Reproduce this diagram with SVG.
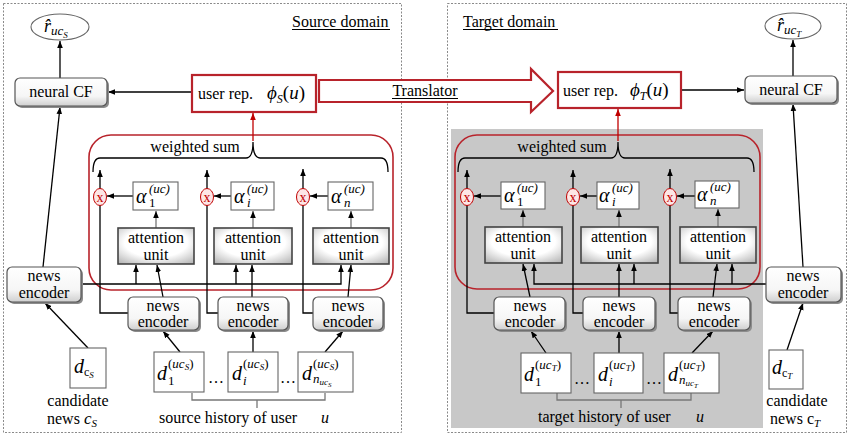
<svg xmlns="http://www.w3.org/2000/svg" width="850" height="435" viewBox="0 0 850 435" font-family="Liberation Serif, serif" font-size="16">
<defs>
<style>
.t{fill:#000}
.i{font-style:italic}
.c{text-anchor:middle}
.ln{stroke:#000;stroke-width:1.3;fill:none}
.gl{stroke:#777;stroke-width:1.3;fill:none}
.rl{stroke:#c00000;stroke-width:1.3;fill:none}
.enc{fill:url(#ge);stroke:#555;stroke-width:1.2}
.sh{fill:#8c8c8c}
.att{fill:url(#ga);stroke:#444;stroke-width:1.6}
.bx{fill:#fff;stroke:#666;stroke-width:1.1}
.mul{fill:#fde6e6;stroke:#c00000;stroke-width:1}
.mx{fill:#c00000;text-anchor:middle}
.red{fill:#fff;stroke:#b8232b;stroke-width:2.2}
.redr{fill:none;stroke:#b8232b;stroke-width:1.6}
.pan{fill:none;stroke:#8a8a8a;stroke-width:1;stroke-dasharray:2,1.5}
</style>
<linearGradient id="ge" x1="0" y1="0" x2="0" y2="1">
<stop offset="0" stop-color="#ffffff"/><stop offset="0.65" stop-color="#f6f6f6"/><stop offset="1" stop-color="#cfcfcf"/>
</linearGradient>
<radialGradient id="ga" cx="0.5" cy="0.4" r="0.75">
<stop offset="0.55" stop-color="#ffffff"/><stop offset="1" stop-color="#b5b5b5"/>
</radialGradient>
<marker id="a" viewBox="0 0 8 8" refX="8" refY="4" markerWidth="7" markerHeight="7" markerUnits="userSpaceOnUse" orient="auto"><path d="M0,0.8 L8,4 L0,7.2z" fill="#000"/></marker>
<marker id="ar" viewBox="0 0 8 8" refX="8" refY="4" markerWidth="7" markerHeight="7" markerUnits="userSpaceOnUse" orient="auto"><path d="M0,0.8 L8,4 L0,7.2z" fill="#c00000"/></marker>
</defs>
<rect width="850" height="435" fill="#fff"/>

<g id="source-panel">
<rect class="pan" x="3.5" y="3.5" width="398" height="429"/>
<text class="t" x="292" y="27">Source domain</text>
<line x1="292" y1="29.5" x2="390" y2="29.5" stroke="#000" stroke-width="1"/>
</g>
<g id="target-panel">
<rect class="pan" x="447.5" y="3.5" width="399" height="429"/>
<rect x="451" y="129" width="312" height="299" fill="#c8c8c8"/>
<text class="t" x="463" y="27">Target domain</text>
<line x1="463" y1="29.5" x2="558" y2="29.5" stroke="#000" stroke-width="1"/>
</g>

<g id="attn-frame-S">
<rect class="redr" x="89" y="135" width="304" height="155" rx="22"/>
<text class="t c" x="195" y="152">weighted sum</text>
</g>
<g id="attn-frame-T">
<rect class="redr" x="455" y="135" width="305" height="154" rx="22"/>
<text class="t c" x="562" y="152">weighted sum</text>
</g>

<g id="connectors">
<path class="ln" d="M93,172 Q93,158 100,158 H246 Q253,158 253,142 Q253,158 260,158 H381 Q388,158 388,172"/>
<path class="ln" d="M458,172 Q458,158 465,158 H611 Q618,158 618,142 Q618,158 625,158 H747 Q754,158 754,172"/>
<line class="rl" x1="253" y1="141" x2="253" y2="113" marker-end="url(#ar)"/>
<line class="rl" x1="618" y1="141" x2="618" y2="109" marker-end="url(#ar)"/>
<line class="ln" x1="60" y1="78" x2="60" y2="41" marker-end="url(#a)"/>
<line class="ln" x1="192" y1="92" x2="108" y2="92" marker-end="url(#a)"/>
<line class="ln" x1="681" y1="90" x2="744" y2="90" marker-end="url(#a)"/>
<line class="ln" x1="793" y1="76" x2="793" y2="40" marker-end="url(#a)"/>
<line class="ln" x1="43" y1="267" x2="60" y2="107" marker-end="url(#a)"/>
<line class="ln" x1="803" y1="267" x2="793" y2="104" marker-end="url(#a)"/>
<line class="ln" x1="88" y1="348" x2="45" y2="303" marker-end="url(#a)"/>
<line class="ln" x1="787" y1="350" x2="803" y2="303" marker-end="url(#a)"/>

<path class="ln" d="M128,313 H100 V170" marker-end="url(#a)"/>
<path class="ln" d="M218,313 H207 V170" marker-end="url(#a)"/>
<path class="ln" d="M313,313 H303 V169" marker-end="url(#a)"/>
<line class="ln" x1="133" y1="196" x2="107" y2="196" marker-end="url(#a)"/>
<line class="ln" x1="231" y1="196" x2="214" y2="196" marker-end="url(#a)"/>
<line class="ln" x1="328" y1="196" x2="310" y2="196" marker-end="url(#a)"/>
<line class="gl" x1="156" y1="228" x2="156" y2="211" marker-end="url(#a)"/>
<line class="gl" x1="253" y1="228" x2="253" y2="211" marker-end="url(#a)"/>
<line class="gl" x1="351" y1="228" x2="351" y2="211" marker-end="url(#a)"/>
<path class="ln" d="M81,284 H341 V265" marker-end="url(#a)"/>
<line class="ln" x1="136" y1="284" x2="136" y2="265" marker-end="url(#a)"/>
<line class="ln" x1="236" y1="284" x2="236" y2="265" marker-end="url(#a)"/>
<line class="ln" x1="163" y1="297" x2="157" y2="265" marker-end="url(#a)"/>
<line class="ln" x1="252" y1="297" x2="252" y2="265" marker-end="url(#a)"/>
<line class="ln" x1="348" y1="297" x2="351" y2="265" marker-end="url(#a)"/>
<line class="ln" x1="180" y1="352" x2="163" y2="331" marker-end="url(#a)"/>
<line class="ln" x1="253" y1="352" x2="253" y2="331" marker-end="url(#a)"/>
<line class="ln" x1="325" y1="352" x2="343" y2="331" marker-end="url(#a)"/>
<path class="gl" d="M192,393 V400 H325 V393 M257,400 V408"/>

<path class="ln" d="M494,313 H467 V170" marker-end="url(#a)"/>
<path class="ln" d="M583,313 H573 V170" marker-end="url(#a)"/>
<path class="ln" d="M678,313 H670 V169" marker-end="url(#a)"/>
<line class="ln" x1="501" y1="196" x2="474" y2="196" marker-end="url(#a)"/>
<line class="ln" x1="597" y1="196" x2="580" y2="196" marker-end="url(#a)"/>
<line class="ln" x1="695" y1="196" x2="677" y2="196" marker-end="url(#a)"/>
<line class="gl" x1="523" y1="227" x2="523" y2="210" marker-end="url(#a)"/>
<line class="gl" x1="619" y1="227" x2="619" y2="210" marker-end="url(#a)"/>
<line class="gl" x1="718" y1="227" x2="718" y2="209" marker-end="url(#a)"/>
<path class="ln" d="M766,284 H534 V264" marker-end="url(#a)"/>
<line class="ln" x1="634" y1="284" x2="634" y2="264" marker-end="url(#a)"/>
<line class="ln" x1="732" y1="284" x2="732" y2="264" marker-end="url(#a)"/>
<line class="ln" x1="530" y1="297" x2="523" y2="264" marker-end="url(#a)"/>
<line class="ln" x1="619" y1="297" x2="619" y2="264" marker-end="url(#a)"/>
<line class="ln" x1="713" y1="297" x2="717" y2="264" marker-end="url(#a)"/>
<line class="ln" x1="546" y1="353" x2="531" y2="331" marker-end="url(#a)"/>
<line class="ln" x1="619" y1="353" x2="619" y2="331" marker-end="url(#a)"/>
<line class="ln" x1="692" y1="353" x2="713" y2="331" marker-end="url(#a)"/>
<path class="gl" d="M557,393 V400 H691 V393 M621,400 V408"/>
</g>

<g id="r-hat-S">
<ellipse cx="60" cy="27" rx="29" ry="13" fill="#fff" stroke="#666" stroke-width="1.1"/>
<text class="t i" x="44" y="32" font-size="18">r̂<tspan font-size="13" dy="3">uc</tspan><tspan font-size="9" dy="3">S</tspan></text>
</g>
<g id="neuralCF-S">
<rect class="sh" x="17" y="80" width="92" height="28" rx="5"/>
<rect class="enc" x="15" y="78" width="92" height="28" rx="5"/>
<text class="t c" x="61" y="97">neural CF</text>
</g>
<g id="userrep-S">
<rect class="red" x="192" y="75" width="124" height="37"/>
<text class="t" x="198" y="99">user rep.</text>
<text class="t i" x="267" y="99" font-size="19">ϕ<tspan font-size="12" dy="4">S</tspan><tspan dy="-4" font-style="normal">(</tspan>u<tspan font-style="normal">)</tspan></text>
</g>
<g id="translator">
<polygon class="red" points="319,80 531,80 531,69 553,91 531,112 531,102 319,102"/>
<text class="t c" x="425" y="96">Translator</text>
<line x1="392" y1="98.5" x2="458" y2="98.5" stroke="#000" stroke-width="1"/>
</g>
<g id="userrep-T">
<rect class="red" x="558" y="72" width="123" height="36"/>
<text class="t" x="563" y="96">user rep.</text>
<text class="t i" x="630" y="96" font-size="19">ϕ<tspan font-size="12" dy="4">T</tspan><tspan dy="-4" font-style="normal">(</tspan>u<tspan font-style="normal">)</tspan></text>
</g>
<g id="neuralCF-T">
<rect class="sh" x="747" y="78" width="92" height="27" rx="5"/>
<rect class="enc" x="745" y="76" width="92" height="27" rx="5"/>
<text class="t c" x="791" y="95">neural CF</text>
</g>
<g id="r-hat-T">
<ellipse cx="793" cy="26" rx="28" ry="13" fill="#fff" stroke="#666" stroke-width="1.1"/>
<text class="t i" x="777" y="31" font-size="18">r̂<tspan font-size="13" dy="3">uc</tspan><tspan font-size="9" dy="3">T</tspan></text>
</g>

<g id="mul-S1"><ellipse class="mul" cx="100" cy="197" rx="6.5" ry="8.5"/><text class="mx" x="100" y="201.5" font-size="14">x</text></g>
<g id="mul-Si"><ellipse class="mul" cx="207" cy="197" rx="6.5" ry="8.5"/><text class="mx" x="207" y="201.5" font-size="14">x</text></g>
<g id="mul-Sn"><ellipse class="mul" cx="303" cy="197" rx="6.5" ry="8.5"/><text class="mx" x="303" y="201.5" font-size="14">x</text></g>
<g id="alpha-S1"><rect class="bx" x="133" y="182" width="45" height="28"/>
<text class="t i" x="136" y="203" font-size="20">α</text><text class="t i" x="149" y="193" font-size="13">(uc)</text><text class="t" x="149" y="207" font-size="13">1</text></g>
<g id="alpha-Si"><rect class="bx" x="231" y="182" width="43" height="28"/>
<text class="t i" x="234" y="203" font-size="20">α</text><text class="t i" x="247" y="193" font-size="13">(uc)</text><text class="t i" x="247" y="207" font-size="13">i</text></g>
<g id="alpha-Sn"><rect class="bx" x="328" y="182" width="45" height="28"/>
<text class="t i" x="331" y="203" font-size="20">α</text><text class="t i" x="344" y="193" font-size="13">(uc)</text><text class="t i" x="344" y="207" font-size="13">n</text></g>
<g id="att-S1"><rect class="att" x="118" y="228" width="76" height="36"/><text class="t c" x="156" y="243">attention</text><text class="t c" x="156" y="260">unit</text></g>
<g id="att-Si"><rect class="att" x="214" y="228" width="78" height="36"/><text class="t c" x="253" y="243">attention</text><text class="t c" x="253" y="260">unit</text></g>
<g id="att-Sn"><rect class="att" x="313" y="228" width="76" height="36"/><text class="t c" x="351" y="243">attention</text><text class="t c" x="351" y="260">unit</text></g>

<g id="enc-Sc"><rect class="sh" x="9" y="269" width="74" height="35" rx="5"/><rect class="enc" x="7" y="267" width="74" height="35" rx="5"/><text class="t c" x="44" y="281">news</text><text class="t c" x="44" y="298">encoder</text></g>
<g id="enc-S1"><rect class="sh" x="130" y="299" width="71" height="33" rx="5"/><rect class="enc" x="128" y="297" width="71" height="33" rx="5"/><text class="t c" x="163" y="311">news</text><text class="t c" x="163" y="327">encoder</text></g>
<g id="enc-Si"><rect class="sh" x="220" y="299" width="70" height="33" rx="5"/><rect class="enc" x="218" y="297" width="70" height="33" rx="5"/><text class="t c" x="253" y="311">news</text><text class="t c" x="253" y="327">encoder</text></g>
<g id="enc-Sn"><rect class="sh" x="315" y="299" width="70" height="33" rx="5"/><rect class="enc" x="313" y="297" width="70" height="33" rx="5"/><text class="t c" x="348" y="311">news</text><text class="t c" x="348" y="327">encoder</text></g>

<g id="doc-Sc"><rect class="bx" x="70" y="348" width="36" height="40"/>
<text class="t i" x="74" y="373" font-size="20">d<tspan font-size="12" dy="3" font-style="normal">c</tspan><tspan font-size="9" dy="2">S</tspan></text>
<text class="t c" x="78" y="406">candidate</text>
<text class="t" x="47" y="424">news <tspan class="i" font-size="17">c</tspan><tspan class="i" font-size="11" dy="3">S</tspan></text></g>
<g id="doc-S1"><rect class="bx" x="154" y="352" width="50" height="40"/>
<text class="t i" x="157" y="380" font-size="20">d</text><text class="t" x="168" y="368" font-size="13">(<tspan class="i">uc</tspan><tspan class="i" font-size="9" dy="2">S</tspan><tspan dy="-2">)</tspan></text><text class="t" x="168" y="385" font-size="13">1</text></g>
<g id="doc-Si"><rect class="bx" x="228" y="352" width="50" height="40"/>
<text class="t i" x="232" y="380" font-size="20">d</text><text class="t" x="243" y="368" font-size="13">(<tspan class="i">uc</tspan><tspan class="i" font-size="9" dy="2">S</tspan><tspan dy="-2">)</tspan></text><text class="t i" x="243" y="385" font-size="13">i</text></g>
<g id="doc-Sn"><rect class="bx" x="298" y="352" width="55" height="40"/>
<text class="t i" x="302" y="380" font-size="20">d</text><text class="t" x="313" y="368" font-size="13">(<tspan class="i">uc</tspan><tspan class="i" font-size="9" dy="2">S</tspan><tspan dy="-2">)</tspan></text><text class="t i" x="313" y="383" font-size="13">n<tspan font-size="9" dy="2">uc</tspan><tspan font-size="7" dy="2">S</tspan></text></g>
<text class="t c" x="216" y="383">…</text>
<text class="t c" x="288" y="383">…</text>
<g id="history-S"><text class="t" x="159" y="423">source history of user</text><text class="t i c" x="325" y="423">u</text></g>

<g id="mul-T1"><ellipse class="mul" cx="467" cy="197" rx="6.5" ry="8.5"/><text class="mx" x="467" y="201.5" font-size="14">x</text></g>
<g id="mul-Ti"><ellipse class="mul" cx="573" cy="197" rx="6.5" ry="8.5"/><text class="mx" x="573" y="201.5" font-size="14">x</text></g>
<g id="mul-Tn"><ellipse class="mul" cx="670" cy="197" rx="6.5" ry="8.5"/><text class="mx" x="670" y="201.5" font-size="14">x</text></g>
<g id="alpha-T1"><rect class="bx" x="501" y="182" width="44" height="27"/>
<text class="t i" x="504" y="202" font-size="20">α</text><text class="t i" x="517" y="192" font-size="13">(uc)</text><text class="t" x="517" y="206" font-size="13">1</text></g>
<g id="alpha-Ti"><rect class="bx" x="597" y="182" width="42" height="27"/>
<text class="t i" x="599" y="202" font-size="20">α</text><text class="t i" x="612" y="192" font-size="13">(uc)</text><text class="t i" x="612" y="206" font-size="13">i</text></g>
<g id="alpha-Tn"><rect class="bx" x="695" y="181" width="44" height="27"/>
<text class="t i" x="697" y="201" font-size="20">α</text><text class="t i" x="710" y="191" font-size="13">(uc)</text><text class="t i" x="710" y="205" font-size="13">n</text></g>
<g id="att-T1"><rect class="att" x="485" y="227" width="77" height="36"/><text class="t c" x="523" y="242">attention</text><text class="t c" x="523" y="259">unit</text></g>
<g id="att-Ti"><rect class="att" x="581" y="227" width="77" height="36"/><text class="t c" x="619" y="242">attention</text><text class="t c" x="619" y="259">unit</text></g>
<g id="att-Tn"><rect class="att" x="680" y="227" width="76" height="36"/><text class="t c" x="718" y="242">attention</text><text class="t c" x="718" y="259">unit</text></g>

<g id="enc-Tc"><rect class="sh" x="768" y="269" width="75" height="35" rx="5"/><rect class="enc" x="766" y="267" width="75" height="35" rx="5"/><text class="t c" x="803" y="281">news</text><text class="t c" x="803" y="298">encoder</text></g>
<g id="enc-T1"><rect class="sh" x="496" y="299" width="71" height="33" rx="5"/><rect class="enc" x="494" y="297" width="71" height="33" rx="5"/><text class="t c" x="530" y="311">news</text><text class="t c" x="530" y="327">encoder</text></g>
<g id="enc-Ti"><rect class="sh" x="585" y="299" width="72" height="33" rx="5"/><rect class="enc" x="583" y="297" width="72" height="33" rx="5"/><text class="t c" x="619" y="311">news</text><text class="t c" x="619" y="327">encoder</text></g>
<g id="enc-Tn"><rect class="sh" x="680" y="299" width="72" height="33" rx="5"/><rect class="enc" x="678" y="297" width="72" height="33" rx="5"/><text class="t c" x="714" y="311">news</text><text class="t c" x="714" y="327">encoder</text></g>

<g id="doc-Tc"><rect class="bx" x="769" y="350" width="34" height="39"/>
<text class="t i" x="772" y="374" font-size="20">d<tspan font-size="12" dy="3" font-style="normal">c</tspan><tspan font-size="9" dy="2">T</tspan></text>
<text class="t c" x="797" y="406">candidate</text>
<text class="t" x="770" y="424">news c<tspan class="i" font-size="11" dy="3">T</tspan></text></g>
<g id="doc-T1"><rect class="bx" x="521" y="353" width="50" height="40"/>
<text class="t i" x="524" y="381" font-size="20">d</text><text class="t" x="535" y="369" font-size="13">(<tspan class="i">uc</tspan><tspan class="i" font-size="9" dy="2">T</tspan><tspan dy="-2">)</tspan></text><text class="t" x="535" y="386" font-size="13">1</text></g>
<g id="doc-Ti"><rect class="bx" x="594" y="353" width="49" height="40"/>
<text class="t i" x="598" y="381" font-size="20">d</text><text class="t" x="609" y="369" font-size="13">(<tspan class="i">uc</tspan><tspan class="i" font-size="9" dy="2">T</tspan><tspan dy="-2">)</tspan></text><text class="t i" x="609" y="386" font-size="13">i</text></g>
<g id="doc-Tn"><rect class="bx" x="664" y="353" width="55" height="40"/>
<text class="t i" x="668" y="381" font-size="20">d</text><text class="t" x="679" y="369" font-size="13">(<tspan class="i">uc</tspan><tspan class="i" font-size="9" dy="2">T</tspan><tspan dy="-2">)</tspan></text><text class="t i" x="679" y="384" font-size="13">n<tspan font-size="9" dy="2">uc</tspan><tspan font-size="7" dy="2">T</tspan></text></g>
<text class="t c" x="582" y="384">…</text>
<text class="t c" x="654" y="384">…</text>
<g id="history-T"><text class="t" x="538" y="422">target history of user</text><text class="t i c" x="700" y="422">u</text></g>
</svg>
